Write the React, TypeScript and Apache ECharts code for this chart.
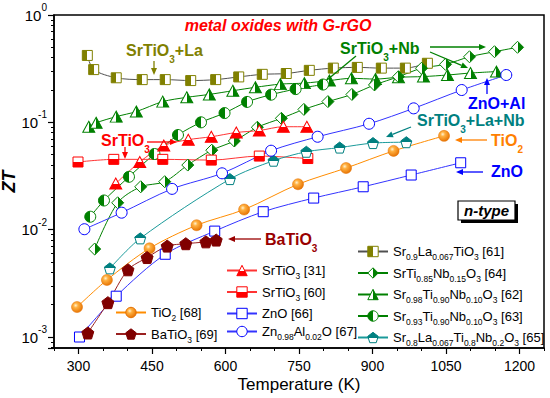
import React, { useEffect, useRef } from 'react';
import * as echarts from 'echarts';

const FONT = '"Liberation Sans", Arial, Helvetica, sans-serif';

// ---- axis categories / tick labels ----
const xCategories = ['250', '300', '350', '400', '450', '500', '550', '600', '650', '700', '750',
  '800', '850', '900', '950', '1000', '1050', '1100', '1150', '1200', '1250'];
const xMajorLabels = ['300', '450', '600', '750', '900', '1050', '1200'];

// ---- data (Temperature K, ZT) ----
const T61 = [318, 331, 377, 430, 477, 529, 580, 627, 675, 724, 771, 820, 869, 918, 967, 1012];
const Z61 = [0.42, 0.31, 0.26, 0.25, 0.25, 0.245, 0.25, 0.265, 0.28, 0.285, 0.305, 0.32, 0.325, 0.32, 0.32, 0.355];

const T64 = [333, 380, 427, 476, 523, 572, 618, 665, 714, 760, 809, 858, 904, 953, 1000, 1049, 1098, 1149, 1196];
const Z64 = [0.0066, 0.0178, 0.0251, 0.028, 0.040, 0.055, 0.067, 0.090, 0.109, 0.132, 0.156, 0.182, 0.223, 0.266, 0.319, 0.347, 0.408, 0.455, 0.50];

const T62 = [321, 336, 377, 418, 472, 521, 567, 615, 661, 712, 761, 812, 857, 906, 953, 1004, 1053, 1100, 1153];
const Z62 = [0.091, 0.099, 0.113, 0.126, 0.156, 0.171, 0.182, 0.197, 0.212, 0.227, 0.232, 0.245, 0.257, 0.253, 0.263, 0.267, 0.276, 0.288, 0.297];

const T63 = [324, 352, 403, 455, 503, 550, 598, 644, 693, 743, 799];
const Z63 = [0.0132, 0.0187, 0.0311, 0.0507, 0.0762, 0.100, 0.122, 0.155, 0.181, 0.204, 0.225];

const T31 = [376, 425, 474, 524, 571, 622, 669, 718, 766];
const Z31 = [0.0269, 0.0427, 0.0608, 0.0689, 0.0734, 0.0804, 0.0839, 0.091, 0.091];

const T60 = [299, 372, 472, 571, 669, 768];
const Z60 = [0.0427, 0.0452, 0.0452, 0.0445, 0.0485, 0.046];

const T66 = [302, 377, 477, 578, 677, 780, 881, 979, 1080];
const Z66 = [0.0010, 0.0024, 0.0059, 0.0097, 0.0147, 0.0197, 0.0251, 0.0323, 0.042];

const T67 = [312, 388, 491, 593, 693, 788, 893, 984, 1082, 1173];
const Z67 = [0.0101, 0.0144, 0.024, 0.0335, 0.0544, 0.0734, 0.097, 0.135, 0.200, 0.276];

const T68 = [297, 358, 445, 541, 638, 748, 846, 943, 1046];
const Z68 = [0.0019, 0.0034, 0.0067, 0.011, 0.0154, 0.0265, 0.0375, 0.0542, 0.0748];

const T69 = [319, 360, 401, 440, 481, 519, 560, 581];
const Z69 = [0.00109, 0.00209, 0.00423, 0.0055, 0.00703, 0.0074, 0.0077, 0.0080];

const T65 = [364, 426, 609, 698, 765, 833, 901, 969];
const Z65 = [0.00436, 0.0083, 0.0296, 0.0439, 0.0532, 0.0582, 0.0641, 0.0653];

// ---- legend groups ----
const legendA = ['TiO2 [68]', 'BaTiO3 [69]'];
const legendB = ['SrTiO3 [31]', 'SrTiO3 [60]', 'ZnO [66]', 'Zn0.98Al0.02O [67]'];
const legendC = ['Sr0.9La0.067TiO3 [61]', 'SrTi0.85Nb0.15O3 [64]', 'Sr0.98Ti0.90Nb0.10O3 [62]',
  'Sr0.93Ti0.90Nb0.10O3 [63]', 'Sr0.8La0.067Ti0.8Nb0.2O3 [65]'];

const legendRich: Record<string, string> = {
  'TiO2 [68]': '{n|TiO}{s|2}{n| [68]}',
  'BaTiO3 [69]': '{n|BaTiO}{s|3}{n| [69]}',
  'SrTiO3 [31]': '{n|SrTiO}{s|3}{n| [31]}',
  'SrTiO3 [60]': '{n|SrTiO}{s|3}{n| [60]}',
  'ZnO [66]': '{n|ZnO [66]}',
  'Zn0.98Al0.02O [67]': '{n|Zn}{s|0.98}{n|Al}{s|0.02}{n|O [67]}',
  'Sr0.9La0.067TiO3 [61]': '{n|Sr}{s|0.9}{n|La}{s|0.067}{n|TiO}{s|3}{n| [61]}',
  'SrTi0.85Nb0.15O3 [64]': '{n|SrTi}{s|0.85}{n|Nb}{s|0.15}{n|O}{s|3}{n| [64]}',
  'Sr0.98Ti0.90Nb0.10O3 [62]': '{n|Sr}{s|0.98}{n|Ti}{s|0.90}{n|Nb}{s|0.10}{n|O}{s|3}{n| [62]}',
  'Sr0.93Ti0.90Nb0.10O3 [63]': '{n|Sr}{s|0.93}{n|Ti}{s|0.90}{n|Nb}{s|0.10}{n|O}{s|3}{n| [63]}',
  'Sr0.8La0.067Ti0.8Nb0.2O3 [65]': '{n|Sr}{s|0.8}{n|La}{s|0.067}{n|Ti}{s|0.8}{n|Nb}{s|0.2}{n|O}{s|3}{n| [65]}',
};

const PENTAGON = 'path://M10 0L20 7.3L16.2 19L3.8 19L0 7.3Z';

function halfFill(c: string, dir: 'left' | 'right' | 'top' | 'bottom') {
  const w = '#ffffff';
  const stops = (a: string, b: string) => [
    { offset: 0, color: a }, { offset: 0.5, color: a }, { offset: 0.5, color: b }, { offset: 1, color: b },
  ];
  const horiz = dir === 'left' || dir === 'right';
  const first = dir === 'left' || dir === 'top';
  return {
    type: 'linear', x: 0, y: 0, x2: horiz ? 1 : 0, y2: horiz ? 0 : 1,
    colorStops: first ? stops(c, w) : stops(w, c),
  };
}

const sphere = {
  type: 'radial', x: 0.38, y: 0.35, r: 0.7,
  colorStops: [
    { offset: 0, color: '#fff2d0' }, { offset: 0.3, color: '#ffb040' }, { offset: 1, color: '#e57000' },
  ],
};

function mk(name: string, xs: number[], ys: number[], symbol: string, size: any,
  fill: any, border: string, lineColor: string, bw = 1) {
  return {
    type: 'line', name, data: xs.map((x, i) => [x, ys[i]]), symbol, symbolSize: size,
    showSymbol: true, smooth: 0.3,
    itemStyle: { color: fill, borderColor: border, borderWidth: bw },
    lineStyle: { color: lineColor, width: 1 },
    emphasis: { disabled: true }, z: 2,
  };
}

function arrowEls(x1: number, y1: number, x2: number, y2: number, color: string, head = true) {
  const dx = x2 - x1, dy = y2 - y1, L = Math.hypot(dx, dy), ux = dx / L, uy = dy / L;
  const hl = 7, hw = 3;
  const bx = x2 - ux * hl, by = y2 - uy * hl;
  const els: any[] = [{
    type: 'line', z: 100, silent: true,
    shape: { x1, y1, x2: head ? bx : x2, y2: head ? by : y2 },
    style: { stroke: color, lineWidth: 1.3 },
  }];
  if (head) {
    els.push({
      type: 'polygon', z: 100, silent: true,
      shape: { points: [[x2, y2], [bx - uy * hw, by + ux * hw], [bx + uy * hw, by - ux * hw]] },
      style: { fill: color },
    });
  }
  return els;
}

function annText(x: number, yc: number, text: string, color: string) {
  return {
    type: 'text', x, y: yc - 10, z: 100, silent: true,
    style: {
      text, fill: color, align: 'left', verticalAlign: 'top',
      rich: {
        m: { fontSize: 16, fontWeight: 'bold', fontFamily: FONT, lineHeight: 20, fill: color },
        s: { fontSize: 10, fontWeight: 'bold', fontFamily: FONT, height: 2, verticalAlign: 'bottom', fill: color },
      },
    },
  };
}

export default function App() {
  const ref = useRef<HTMLDivElement>(null);
  useEffect(() => {
    document.body.style.margin = '0';
    const chart = echarts.init(ref.current!, null, { renderer: 'svg' });

    const red = '#ff0000', green = '#008000', blue = '#0000ff', olive = '#808000',
      teal = '#008080', orange = '#ff8c00', brown = '#800000';

    const series: any[] = [
      mk('Sr0.9La0.067TiO3 [61]', T61, Z61, 'rect', 10, halfFill(olive, 'left'), olive, '#505050'),
      mk('Sr0.98Ti0.90Nb0.10O3 [62]', T62, Z62, 'triangle', [12, 11], halfFill(green, 'right'), green, green),
      mk('Sr0.93Ti0.90Nb0.10O3 [63]', T63, Z63, 'circle', 11, halfFill(green, 'left'), green, green),
      mk('SrTi0.85Nb0.15O3 [64]', T64, Z64, 'diamond', 12, halfFill(green, 'right'), green, green),
      mk('SrTiO3 [31]', T31, Z31, 'triangle', [12, 11], halfFill(red, 'bottom'), red, '#ff3333'),
      mk('SrTiO3 [60]', T60, Z60, 'rect', 10, halfFill(red, 'bottom'), red, '#ff3333'),
      mk('Sr0.8La0.067Ti0.8Nb0.2O3 [65]', T65, Z65, PENTAGON, 11, halfFill(teal, 'top'), teal, '#1a9a9a'),
      mk('Zn0.98Al0.02O [67]', T67, Z67, 'circle', 11, '#ffffff', blue, '#3333ff'),
      mk('ZnO [66]', T66, Z66, 'rect', 10, '#ffffff', blue, '#3333ff'),
      mk('TiO2 [68]', T68, Z68, 'circle', 11, sphere, '#e57000', orange, 0.5),
      mk('BaTiO3 [69]', T69, Z69, PENTAGON, 12, brown, brown, '#9a2020'),
    ];

    const legendBase = {
      orient: 'vertical', itemWidth: 30, itemHeight: 13, itemGap: 5, padding: 0,
      selectedMode: false,
      itemStyle: { borderWidth: 1 },
      formatter: (n: string) => legendRich[n] || n,
      textStyle: {
        color: '#000', fontFamily: FONT,
        rich: {
          n: { fontSize: 13, lineHeight: 18, fontFamily: FONT, color: '#000' },
          s: { fontSize: 8.5, height: 7, verticalAlign: 'bottom', fontFamily: FONT, color: '#000' },
        },
      },
    };

    const graphics: any[] = [
      {
        type: 'text', x: 278, y: 25, z: 100, silent: true,
        style: {
          text: 'metal oxides with G-rGO', fill: red, align: 'center', verticalAlign: 'middle',
          font: 'italic bold 16px ' + FONT,
        },
      },
      annText(126, 50, '{m|SrTiO}{s|3}{m|+La}', olive),
      ...arrowEls(154, 61, 154, 75, olive),
      annText(340, 48, '{m|SrTiO}{s|3}{m|+Nb}', green),
      ...arrowEls(356, 56, 327, 80, green, false),
      ...arrowEls(430, 47, 486, 47, green),
      ...arrowEls(430, 52, 468, 68, green),
      annText(101, 140, '{m|SrTiO}{s|3}', red),
      ...arrowEls(147, 142, 177, 142, red),
      ...arrowEls(125, 147, 125, 159, red),
      annText(468, 103, '{m|ZnO+Al}', blue),
      ...arrowEls(487, 94, 487, 78, blue),
      annText(417, 120, '{m|SrTiO}{s|3}{m|+La+Nb}', teal),
      ...arrowEls(411, 127, 386, 137, teal),
      annText(491, 140, '{m|TiO}{s|2}', '#ff8000'),
      ...arrowEls(487, 140, 455, 140, '#ff8000'),
      annText(491, 171, '{m|ZnO}', blue),
      ...arrowEls(483, 172, 456, 172, blue),
      annText(265, 239, '{m|BaTiO}{s|3}', '#990000'),
      ...arrowEls(261, 239, 228, 239, '#990000'),
      { type: 'rect', z: 100, silent: true, shape: { x: 461, y: 204, width: 57, height: 19 }, style: { fill: '#000' } },
      { type: 'rect', z: 101, silent: true, shape: { x: 458, y: 201, width: 57, height: 19 }, style: { fill: '#fff', stroke: '#000', lineWidth: 1.2 } },
      {
        type: 'text', x: 486.5, y: 210.5, z: 102, silent: true,
        style: { text: 'n-type', fill: '#000', align: 'center', verticalAlign: 'middle', font: 'italic bold 15px ' + FONT },
      },
    ];

    const option: any = {
      animation: false,
      backgroundColor: '#ffffff',
      textStyle: { fontFamily: FONT },
      grid: {
        left: 54, right: 6, top: 15, bottom: 50, show: true, borderColor: '#000', borderWidth: 1.5,
        backgroundColor: 'transparent', containLabel: false, outerBoundsMode: 'none',
      },
      xAxis: [
        {
          type: 'value', min: 250, max: 1250, interval: 50, position: 'bottom',
          axisLine: { show: true, onZero: false, lineStyle: { color: '#000', width: 1.5 } },
          axisTick: { show: true, length: 3, lineStyle: { color: '#000', width: 1 } },
          axisLabel: { show: false }, splitLine: { show: false },
        },
        {
          type: 'category', data: xCategories, boundaryGap: false, position: 'bottom',
          axisLine: { show: false },
          axisTick: { show: true, length: 6, interval: (_i: number, v: string) => xMajorLabels.includes(v), lineStyle: { color: '#000', width: 1.2 } },
          axisLabel: { interval: (_i: number, v: string) => xMajorLabels.includes(v), fontSize: 14, color: '#000', margin: 11, fontFamily: FONT },
          splitLine: { show: false },
          name: 'Temperature (K)', nameLocation: 'middle', nameGap: 28, nameMoveOverlap: false,
          nameTextStyle: { fontSize: 17, color: '#000', fontFamily: FONT },
        },
      ],
      yAxis: {
        type: 'log', logBase: 10, min: 0.00079, max: 1,
        axisLine: { show: true, lineStyle: { color: '#000', width: 1.5 } },
        axisTick: { show: true, length: 6, lineStyle: { color: '#000', width: 1.2 } },
        minorTick: { show: true, splitNumber: 9, length: 3, lineStyle: { color: '#000', width: 1 } },
        splitLine: { show: false }, minorSplitLine: { show: false },
        axisLabel: {
          margin: 7, color: '#000',
          formatter: (v: number) => {
            const e = Math.log10(v);
            const r = Math.round(e);
            if (Math.abs(e - r) > 1e-6) return '';
            return '{b|10}{s|' + r + '}';
          },
          rich: {
            b: { fontSize: 15, lineHeight: 22, fontFamily: FONT, color: '#000' },
            s: { fontSize: 10, height: 7, verticalAlign: 'top', fontFamily: FONT, color: '#000' },
          },
        },
        name: 'ZT', nameLocation: 'middle', nameGap: 36, nameMoveOverlap: false,
        nameTextStyle: { fontSize: 18, fontWeight: 'bold', fontStyle: 'italic', color: '#000', fontFamily: FONT },
      },
      legend: [
        { ...legendBase, left: 115, top: 306, data: legendA.map((name) => ({ name })) },
        { ...legendBase, left: 226, top: 264, data: legendB.map((name) => ({ name })) },
        { ...legendBase, left: 357, top: 245, data: legendC.map((name) => ({ name })) },
      ],
      series,
      graphic: { elements: graphics },
    };

    chart.setOption(option);
    return () => chart.dispose();
  }, []);

  return <div ref={ref} style={{ position: 'absolute', left: 0, top: 0, width: 550, height: 398 }} />;
}
